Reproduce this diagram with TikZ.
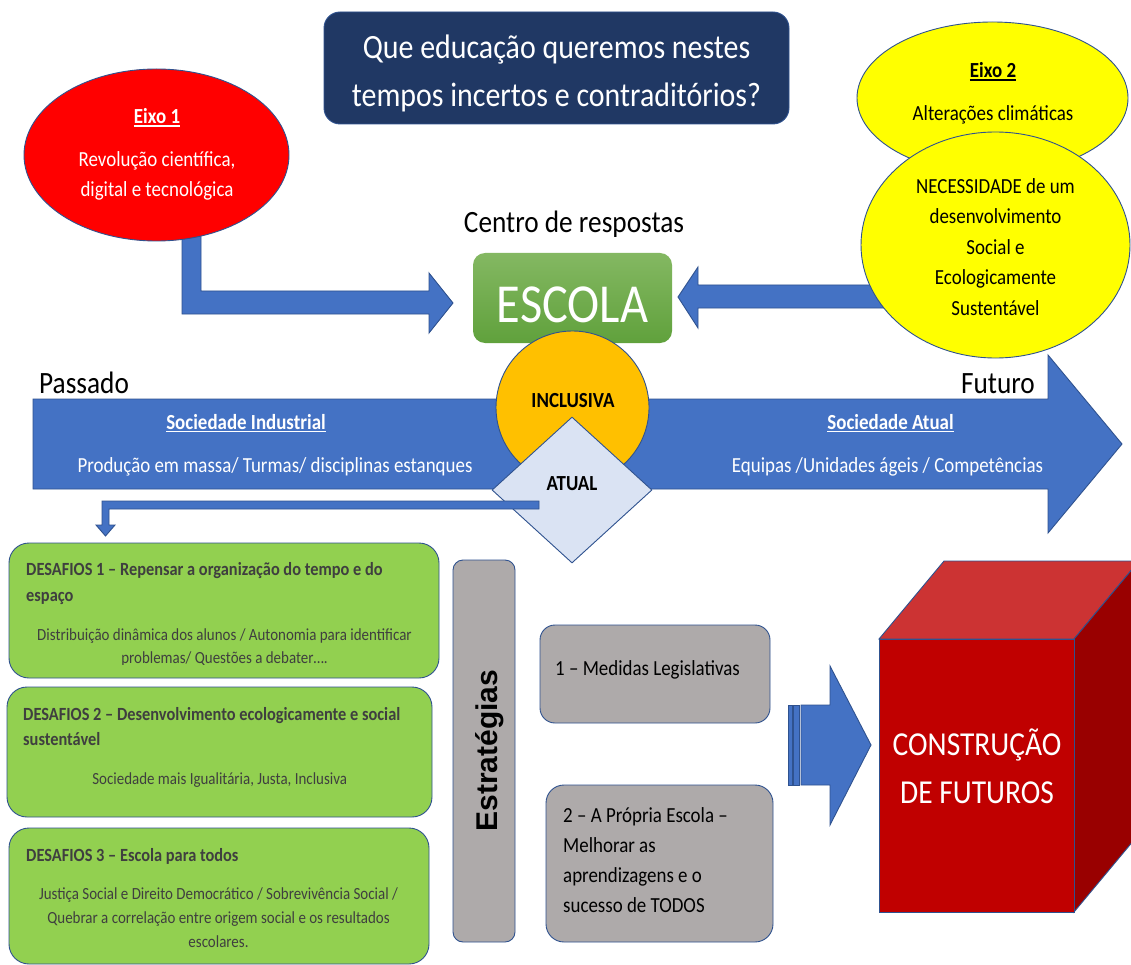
\documentclass[tikz,border=0pt]{standalone}
\usepackage{fontspec}
\setmainfont{Carlito}[FakeStretch=0.88]
\newfontfamily\arialbold{Liberation Sans Bold}
\newsavebox\myulbox
\newcommand\myul[1]{\sbox\myulbox{#1}\rlap{\rule[-2.8pt]{\wd\myulbox}{1.3pt}}\usebox\myulbox}
\usetikzlibrary{shapes.geometric}
\definecolor{bord}{HTML}{2F528F}
\definecolor{blu}{HTML}{4472C4}
\definecolor{navy}{HTML}{203864}
\definecolor{eixored}{HTML}{FF0000}
\definecolor{yel}{HTML}{FFFF00}
\definecolor{grtop}{HTML}{84B862}
\definecolor{grbot}{HTML}{60A13C}
\definecolor{incl}{HTML}{FFC000}
\definecolor{atualc}{HTML}{DAE3F3}
\definecolor{lgreen}{HTML}{92D050}
\definecolor{gry}{HTML}{AEAAAA}
\definecolor{dtxt}{HTML}{3F3F3F}
\definecolor{cfront}{HTML}{C00000}
\definecolor{ctop}{HTML}{CC3333}
\definecolor{cside}{HTML}{990000}
\newcommand\fsz[1]{\fontsize{#1}{#1}\selectfont}
\begin{document}
\begin{tikzpicture}[x=1pt,y=-1pt,
  ol/.style={draw=bord,line width=0.9pt},
  lbl/.style={inner sep=0pt,anchor=base},
  lblw/.style={inner sep=0pt,anchor=base west},
  rbox/.style={ol,rounded corners=#1,inner sep=0pt},
  blockarrow/.style={ol,fill=blu,line join=miter},
  t21/.style={font=\fsz{21.5}},
  t21b/.style={font=\fsz{21.5}\bfseries},
  dtitle/.style={lblw,font=\fsz{18.6}\bfseries,text=dtxt},
  dbody/.style={lbl,font=\fsz{17},text=dtxt}]
\path[use as bounding box] (0,0) rectangle (1131,965);
\fill[white] (0,0) rectangle (1131,965);
\clip (0,0) rectangle (1131,965);

% title
\node[rbox=16pt,fill=navy,minimum width=465pt,minimum height=112pt] (title) at (556.5,68) {};
\node[lbl,font=\fsz{34},text=white] (tl1) at (556.5,59) {Que educação queremos nestes};
\node[lbl,font=\fsz{34},text=white] (tl2) at (556.5,107) {tempos incertos e contraditórios?};

% arrow from Eixo 1 to ESCOLA
\draw[blockarrow] (182,230) -- (182,314) -- (429,314) -- (429,333) -- (453,303) -- (429,273) -- (429,291) -- (201,291) -- (201,230) -- cycle;
% Eixo 1
\node[ellipse,ol,fill=eixored,minimum width=265pt,minimum height=172pt,inner sep=0pt] (eixo1) at (156.5,155) {};
\node[lbl,t21b,text=white] (e1t) at (157,124) {\myul{Eixo 1}};
\node[lbl,t21,text=white] (e1a) at (157,167) {Revolução científica,};
\node[lbl,t21,text=white] (e1b) at (157,197) {digital e tecnológica};

% Centro de respostas
\node[lbl,font=\fsz{31}] (centro) at (574,233) {Centro de respostas};

% arrow from Eixo 2 to ESCOLA
\draw[blockarrow] (900,285) -- (698,285) -- (698,267) -- (678,297) -- (698,328) -- (698,308) -- (900,308) -- cycle;
% Eixo 2 ellipses
\node[ellipse,ol,fill=yel,minimum width=271pt,minimum height=152pt,inner sep=0pt] (eixo2) at (992.5,98) {};
\node[lbl,t21b] (e2t) at (993,78) {\myul{Eixo 2}};
\node[lbl,t21] (e2a) at (993,121) {Alterações climáticas};
\node[ellipse,ol,fill=yel,minimum width=269pt,minimum height=226pt,inner sep=0pt] (nec) at (995.5,245) {};
\node[lbl,t21] (n1) at (995.5,194) {NECESSIDADE de um};
\node[lbl,t21] (n2) at (995.5,224) {desenvolvimento};
\node[lbl,t21] (n3) at (995.5,255) {Social e};
\node[lbl,t21] (n4) at (995.5,285) {Ecologicamente};
\node[lbl,t21] (n5) at (995.5,316) {Sustentável};

% timeline arrow
\draw[blockarrow] (33,399) -- (1048,399) -- (1048,355) -- (1122,444) -- (1048,533) -- (1048,489) -- (33,489) -- cycle;
\node[lblw,font=\fsz{31}] (passado) at (39,393) {Passado};
\node[inner sep=0pt,anchor=base east,font=\fsz{31}] (futuro) at (1035,393) {Futuro};
\node[lbl,t21b,text=white] (si) at (246,429) {\myul{Sociedade Industrial}};
\node[lbl,t21,text=white] (sib) at (275,472) {Produção em massa/ Turmas/ disciplinas estanques};
\node[lbl,t21b,text=white] (sa) at (890.5,429) {\myul{Sociedade Atual}};
\node[lbl,t21,text=white] (sab) at (887.5,472) {Equipas /Unidades ágeis / Competências};

% ESCOLA
\node[rbox=12pt,top color=grtop,bottom color=grbot,draw=none,minimum width=199pt,minimum height=90pt] (escola) at (572.5,298) {};
\node[lbl,font=\fsz{55},text=white] (escolat) at (572.5,322) {ESCOLA};

% INCLUSIVA / ATUAL
\node[circle,ol,fill=incl,minimum size=153pt,inner sep=0pt] (inclusiva) at (572.5,407.5) {};
\node[lbl,t21b] (inct) at (573,407) {INCLUSIVA};
\node[diamond,ol,fill=atualc,minimum width=160pt,minimum height=146pt,inner sep=0pt] (atual) at (572,490) {};
\node[lbl,t21b] (atualt) at (572,490) {ATUAL};

% bent arrow to DESAFIOS
\draw[blockarrow] (539,501) -- (102,501) -- (102,525) -- (96,525) -- (105.5,536) -- (115,525) -- (109,525) -- (109,509) -- (539,509) -- cycle;

% DESAFIOS boxes
\node[rbox=20pt,fill=lgreen,minimum width=430pt,minimum height=135pt] (d1) at (224,610.5) {};
\node[dtitle] (d1t) at (26,575) {DESAFIOS 1 – Repensar a organização do tempo e do};
\node[dtitle] (d1t2) at (26,601) {espaço};
\node[dbody] (d1b) at (224.5,640) {Distribuição dinâmica dos alunos / Autonomia para identificar};
\begin{scope}
\clip (0,640) rectangle (450,664);
\node[dbody] (d1b2) at (224.5,663) {problemas/ Questões a debater….};
\end{scope}

\node[rbox=20pt,fill=lgreen,minimum width=425pt,minimum height=130pt] (d2) at (219.5,752) {};
\node[dtitle] (d2t) at (23,720) {DESAFIOS 2 – Desenvolvimento ecologicamente e social};
\node[dtitle] (d2t2) at (23,745) {sustentável};
\node[dbody] (d2b) at (219.7,784) {Sociedade mais Igualitária, Justa, Inclusiva};

\node[rbox=20pt,fill=lgreen,minimum width=420pt,minimum height=136pt] (d3) at (219,896) {};
\node[dtitle] (d3t) at (26,861) {DESAFIOS 3 – Escola para todos};
\node[dbody] (d3b1) at (218.5,899) {Justiça Social e Direito Democrático / Sobrevivência Social /};
\node[dbody] (d3b2) at (218.5,923) {Quebrar a correlação entre origem social e os resultados};
\node[dbody] (d3b3) at (218.5,947) {escolares.};

% Estrategias
\node[rbox=10pt,fill=gry,minimum width=62pt,minimum height=382pt] (estr) at (484,751) {};
\node[lbl,rotate=90,font=\arialbold\fsz{30}] (estrt) at (497,750.5) {Estratégias};

% strategy boxes
\node[rbox=15pt,fill=gry,minimum width=230pt,minimum height=98pt] (s1) at (655,674) {};
\node[lblw,t21] (s1t) at (555,675) {1 – Medidas Legislativas};
\node[rbox=18pt,fill=gry,minimum width=227pt,minimum height=157pt] (s2) at (659.5,863.5) {};
\node[lblw,t21] (s2a) at (563,822) {2 – A Própria Escola –};
\node[lblw,t21] (s2b) at (563,852) {Melhorar as};
\node[lblw,t21] (s2c) at (563,882) {aprendizagens e o};
\node[lblw,t21] (s2d) at (563,912) {sucesso de TODOS};

% striped arrow
\draw[blockarrow] (788,705) rectangle (792,785);
\draw[blockarrow] (793.5,705) rectangle (799,785);
\draw[blockarrow] (801,705) -- (830,705) -- (830,666) -- (871,745) -- (830,825) -- (830,785) -- (801,785) -- cycle;

% cube
\draw[ol,fill=ctop,line join=miter] (879,639) -- (944,561) -- (1139,561) -- (1074,639) -- cycle;
\draw[ol,fill=cside,line join=miter] (1074,639) -- (1139,561) -- (1139,834) -- (1074,912) -- cycle;
\node[ol,fill=cfront,minimum width=195pt,minimum height=273pt,inner sep=0pt] (cube) at (976.5,775.5) {};
\node[lbl,font=\fsz{33.5},text=white] (c1) at (977,755) {CONSTRUÇÃO};
\node[lbl,font=\fsz{33.5},text=white] (c2) at (977,803) {DE FUTUROS};
\end{tikzpicture}
\end{document}
